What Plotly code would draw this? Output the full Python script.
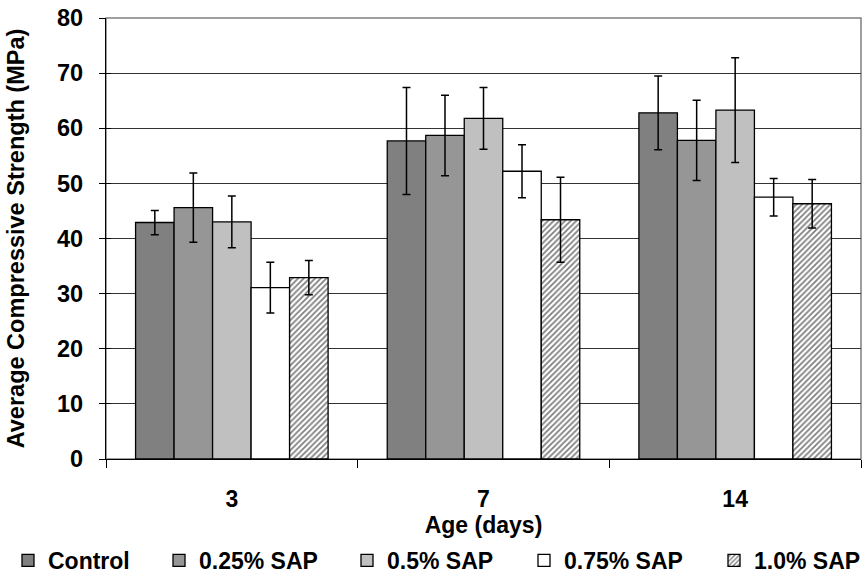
import plotly.graph_objects as go

# Age at testing (days)
ages = ["3", "7", "14"]

# Mean compressive strength (MPa) and standard deviation for each mix
series_names = ["Control", "0.25% SAP", "0.5% SAP", "0.75% SAP", "1.0% SAP"]
control = [42.9, 57.7, 62.8]
control_sd = [2.2, 9.7, 6.7]
sap_025 = [45.6, 58.7, 57.8]
sap_025_sd = [6.3, 7.3, 7.3]
sap_05 = [43.0, 61.8, 63.3]
sap_05_sd = [4.7, 5.6, 9.5]
sap_075 = [31.1, 52.2, 47.5]
sap_075_sd = [4.6, 4.8, 3.4]
sap_10 = [32.9, 43.4, 46.3]
sap_10_sd = [3.1, 7.7, 4.4]

values = [control, sap_025, sap_05, sap_075, sap_10]
errors = [control_sd, sap_025_sd, sap_05_sd, sap_075_sd, sap_10_sd]
fills = ["#808080", "#969696", "#c0c0c0", "#ffffff", "#ffffff"]

FONT = "Liberation Sans, Arial, sans-serif"
W, H = 863, 582
ML, MR, MT, MB = 106, 2, 18, 123
PW = W - ML - MR
PH = H - MT - MB

# legend text start (px) for each series, laid out along one row
legend_text_x = [50, 201, 389, 566, 756]

fig = go.Figure()
for i, (name, vals, err, col) in enumerate(zip(series_names, values, errors, fills)):
    marker = dict(color=col, line=dict(color="#000000", width=1.3))
    if name == "1.0% SAP":
        marker["pattern"] = dict(shape="/", fgcolor="#000000", bgcolor="#ffffff",
                                 size=4, solidity=0.45)
    lg = "legend" if i == 0 else f"legend{i + 1}"
    fig.add_trace(go.Bar(
        x=ages, y=vals, name=name, marker=marker, legend=lg,
        error_y=dict(type="data", array=err, visible=True, color="#000000",
                     thickness=1.5, width=4),
    ))

# invisible trace on overlay axes to carry inside tick marks
fig.add_trace(go.Scatter(x=[None], y=[None], xaxis="x2", yaxis="y2",
                         showlegend=False, hoverinfo="skip"))

legend_font = dict(family=FONT, size=23, color="#000000", weight="bold")
legends = {}
for i, tx in enumerate(legend_text_x):
    key = "legend" if i == 0 else f"legend{i + 1}"
    legends[key] = dict(
        x=(tx - 42 - ML) / PW, xanchor="left", xref="paper",
        y=0, yanchor="bottom", yref="container",
        orientation="h", font=legend_font, bgcolor="rgba(0,0,0,0)",
        itemwidth=30, tracegroupgap=0,
    )

fig.update_layout(
    width=W, height=H,
    margin=dict(l=ML, r=MR, t=MT, b=MB, autoexpand=False),
    paper_bgcolor="#ffffff", plot_bgcolor="#ffffff",
    barmode="group", bargap=0.235, bargroupgap=0,
    font=dict(family=FONT, size=22, color="#000000"),
    xaxis=dict(
        type="category", showgrid=False, showline=True, linecolor="#000000",
        linewidth=1.3, ticks="outside", ticklen=8, tickcolor="#000000",
        tickson="boundaries", tickfont=dict(size=23, weight="bold"),
        ticklabelstandoff=19,
        title=dict(text="Age (days)", font=dict(size=23, weight="bold"), standoff=2),
    ),
    yaxis=dict(
        range=[0, 80], dtick=10, showgrid=True, gridcolor="#333333", gridwidth=1,
        zeroline=False, showline=True, linecolor="#000000", linewidth=1.3,
        ticks="outside", ticklen=6, tickcolor="#000000",
        tickfont=dict(size=23.5, weight="bold"), ticklabelstandoff=11,
        title=dict(text="Average Compressive Strength (MPa)",
                   font=dict(size=23.5, weight="bold"), standoff=25),
    ),
    xaxis2=dict(overlaying="x", range=[0, 1], visible=False),
    yaxis2=dict(overlaying="y", range=[0, 80], dtick=10, side="left",
                showgrid=False, zeroline=False, showline=False,
                ticks="inside", ticklen=5, tickcolor="#000000",
                showticklabels=False),
    shapes=[dict(type="rect", xref="x domain", yref="y domain", x0=0, x1=1,
                 y0=0, y1=1, line=dict(color="#808080", width=1.5), layer="below")],
    **legends,
)

fig.write_html("out.html")
